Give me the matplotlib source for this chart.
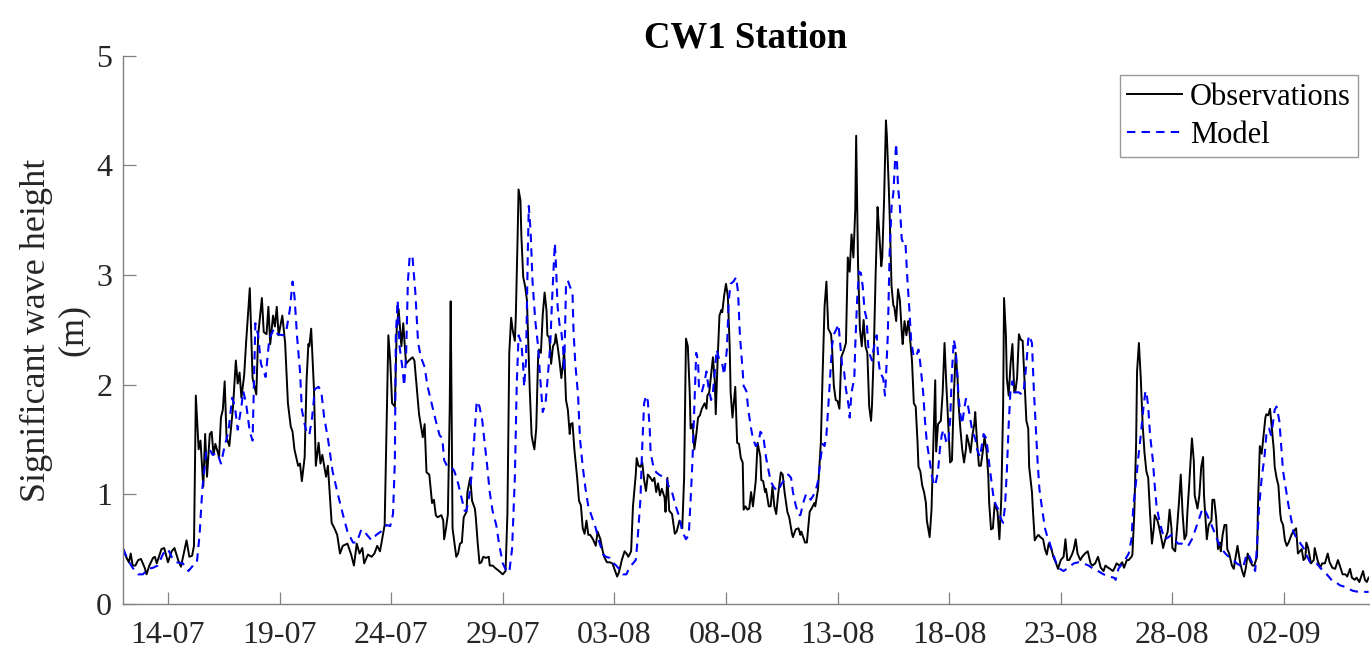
import numpy as np
import pandas as pd
import matplotlib
matplotlib.use("Agg")
import matplotlib.pyplot as plt
import matplotlib.dates as mdates

plt.rcParams['font.family'] = ['Liberation Serif', 'DejaVu Serif']

# hours since 12-07 00:00
obs_hours = [0, 3, 6, 8, 10, 13, 16, 19, 23, 25, 28, 32, 34, 36, 41, 44, 48, 52, 55, 59, 62, 68, 71, 74, 76, 78,
             81, 83, 86, 88, 90, 93, 95, 97, 99, 103, 105, 107, 109, 111, 114, 118, 121, 123, 125, 127, 130, 132,
             136, 139, 143, 145, 149, 151, 154, 156, 158, 161, 163, 165, 167, 171, 174, 177, 180, 182, 184, 188,
             190, 192, 195, 197, 199, 200, 202, 205, 207, 210, 212, 214, 216, 218, 220, 224, 227, 230, 233, 236,
             241, 245, 248, 251, 254, 257, 259, 263, 267, 270, 273, 276, 281, 283, 285, 287, 289, 292, 294, 296,
             299, 301, 304, 307, 311, 313, 316, 318, 322, 324, 326, 329, 332, 334, 336, 338, 342, 344, 345, 347,
             349, 351, 352, 353, 354, 356, 358, 360, 362, 364, 366, 369, 370, 373, 375, 378, 379, 381, 383, 385,
             387, 390, 393, 394, 397, 401, 404, 408, 411, 413, 415, 417, 419, 421, 422, 424, 425, 427, 428, 430,
             432, 434, 437, 439, 440, 442, 444, 446, 447, 449, 451, 453, 455, 456, 458, 460, 462, 464, 465, 467,
             469, 471, 473, 474, 476, 478, 480, 481, 483, 485, 488, 490, 492, 494, 496, 498, 500, 502, 505, 508,
             510, 513, 515, 517, 520, 523, 526, 528, 531, 533, 536, 539, 541, 543, 546, 548, 551, 552, 554, 556,
             558, 560, 562, 564, 566, 569, 571, 573, 575, 577, 579, 582, 583, 585, 587, 590, 593, 595, 598, 600,
             601, 603, 605, 607, 609, 610, 612, 614, 616, 618, 620, 622, 625, 627, 628, 630, 632, 634, 636, 637,
             639, 641, 643, 644, 646, 648, 650, 652, 653, 655, 658, 660, 662, 664, 666, 667, 669, 671, 673, 675,
             677, 680, 682, 685, 686, 688, 690, 691, 694, 696, 698, 700, 702, 704, 707, 709, 711, 714, 716, 719,
             720, 723, 726, 728, 729, 731, 733, 735, 738, 740, 743, 744, 747, 750, 752, 754, 756, 758, 761, 762,
             764, 766, 768, 770, 772, 775, 777, 779, 781, 783, 785, 787, 788, 790, 792, 794, 796, 798, 800, 802,
             804, 805, 807, 809, 811, 812, 815, 816, 818, 820, 821, 823, 824, 826, 828, 829, 831, 833, 835, 837,
             838, 840, 842, 844, 845, 847, 848, 850, 852, 854, 855, 857, 859, 861, 863, 864, 867, 869, 871, 873,
             874, 876, 879, 881, 883, 885, 887, 889, 891, 893, 895, 897, 898, 900, 902, 904, 906, 907, 909, 911,
             913, 915, 916, 918, 920, 922, 924, 926, 928, 930, 931, 933, 935, 937, 940, 942, 944, 946, 947, 949,
             950, 952, 954, 956, 958, 959, 961, 963, 965, 967, 969, 971, 973, 974, 977, 978, 980, 982, 984, 986,
             989, 991, 993, 995, 998, 1000, 1003, 1005, 1008, 1011, 1013, 1015, 1017, 1020, 1022, 1024, 1026,
             1029, 1031, 1034, 1037, 1040, 1042, 1045, 1048, 1051, 1054, 1056, 1059, 1061, 1064, 1066, 1068,
             1071, 1074, 1076, 1079, 1081, 1084, 1085, 1087, 1089, 1090, 1092, 1094, 1096, 1098, 1100, 1102,
             1104, 1106, 1108, 1109, 1112, 1114, 1117, 1118, 1121, 1123, 1125, 1127, 1128, 1131, 1133, 1135,
             1137, 1139, 1141, 1143, 1144, 1146, 1149, 1151, 1152, 1155, 1157, 1159, 1161, 1162, 1165, 1167,
             1170, 1171, 1173, 1175, 1177, 1179, 1180, 1182, 1184, 1186, 1187, 1189, 1192, 1194, 1196, 1198,
             1201, 1203, 1205, 1207, 1209, 1211, 1214, 1216, 1219, 1220, 1222, 1224, 1226, 1228, 1229, 1231,
             1233, 1235, 1237, 1238, 1240, 1242, 1244, 1245, 1247, 1249, 1251, 1253, 1256, 1258, 1261, 1263,
             1265, 1267, 1269, 1271, 1272, 1274, 1277, 1280, 1281, 1284, 1287, 1289, 1292, 1295, 1297, 1300,
             1303, 1306, 1308, 1311, 1314, 1316, 1319, 1321, 1324, 1326, 1329, 1331, 1333, 1335, 1337, 1339]
obs_hs = [0.50, 0.43, 0.38, 0.46, 0.35, 0.35, 0.40, 0.41, 0.33, 0.27, 0.35, 0.42, 0.43, 0.37, 0.50, 0.51, 0.38,
          0.48, 0.51, 0.40, 0.34, 0.58, 0.43, 0.44, 0.53, 1.90, 1.41, 1.49, 1.07, 1.55, 1.16, 1.55, 1.57, 1.36,
          1.46, 1.34, 1.70, 1.77, 2.03, 1.52, 1.44, 1.80, 2.22, 2.01, 2.11, 1.88, 2.09, 2.38, 2.88, 2.06, 1.91,
          2.45, 2.79, 2.48, 2.46, 2.71, 2.37, 2.63, 2.53, 2.71, 2.45, 2.63, 2.38, 1.83, 1.62, 1.57, 1.41, 1.26,
          1.28, 1.12, 1.34, 2.03, 2.37, 2.35, 2.51, 1.96, 1.26, 1.47, 1.28, 1.36, 1.26, 1.16, 1.26, 0.74, 0.69,
          0.63, 0.46, 0.53, 0.55, 0.45, 0.35, 0.55, 0.46, 0.51, 0.37, 0.45, 0.43, 0.46, 0.53, 0.48, 0.72, 1.60,
          2.45, 2.22, 1.83, 1.80, 2.51, 2.69, 2.35, 2.56, 2.19, 2.22, 2.25, 2.22, 1.93, 1.73, 1.52, 1.64, 1.20,
          1.18, 0.92, 0.95, 0.81, 0.79, 0.81, 0.76, 0.59, 0.69, 0.82, 1.80, 2.76, 1.80, 0.69, 0.56, 0.43, 0.46,
          0.55, 0.56, 0.79, 0.84, 1.02, 1.15, 0.94, 0.87, 0.79, 0.56, 0.37, 0.38, 0.43, 0.42, 0.43, 0.35, 0.35,
          0.32, 0.30, 0.27, 0.30, 0.82, 2.29, 2.61, 2.48, 2.40, 2.61, 3.36, 3.78, 3.68, 3.36, 2.98, 2.90, 2.77,
          1.96, 1.54, 1.49, 1.41, 1.60, 2.25, 2.32, 2.29, 2.64, 2.84, 2.68, 2.45, 2.43, 2.19, 2.35, 2.38, 2.46,
          2.35, 2.22, 2.06, 2.20, 2.32, 1.86, 1.77, 1.55, 1.64, 1.65, 1.41, 1.15, 0.94, 0.90, 0.69, 0.64, 0.76,
          0.63, 0.63, 0.59, 0.53, 0.66, 0.59, 0.50, 0.43, 0.38, 0.38, 0.37, 0.32, 0.25, 0.29, 0.40, 0.48, 0.46,
          0.43, 0.48, 0.89, 1.18, 1.33, 1.26, 1.25, 1.29, 1.13, 1.03, 1.18, 1.16, 1.12, 1.15, 1.02, 1.10, 0.99,
          1.05, 0.97, 0.84, 1.15, 0.85, 0.82, 0.64, 0.66, 0.76, 0.72, 0.69, 1.15, 2.42, 2.35, 1.93, 1.60, 1.64,
          1.41, 1.54, 1.70, 1.72, 1.78, 1.83, 1.78, 1.90, 1.93, 2.09, 2.25, 2.03, 1.73, 2.22, 2.63, 2.68, 2.66,
          2.81, 2.92, 2.81, 2.35, 1.93, 1.70, 1.98, 1.47, 1.46, 1.33, 1.29, 0.86, 0.89, 0.86, 0.87, 1.02, 0.89,
          1.12, 1.47, 1.34, 1.13, 1.12, 1.02, 1.05, 0.89, 0.89, 1.07, 0.89, 0.82, 0.99, 1.20, 1.18, 1.02, 0.84,
          0.79, 0.64, 0.61, 0.68, 0.69, 0.63, 0.66, 0.61, 0.56, 0.56, 0.84, 0.87, 0.92, 0.89, 1.05, 1.47, 2.12,
          2.71, 2.94, 2.51, 2.46, 2.35, 1.99, 1.86, 1.85, 1.78, 2.25, 2.32, 2.38, 3.16, 3.03, 3.37, 3.16, 3.59,
          4.27, 3.10, 2.51, 2.35, 2.59, 2.35, 2.29, 1.80, 1.67, 1.81, 2.32, 3.03, 3.62, 3.49, 3.08, 3.16, 3.68,
          4.41, 4.27, 3.81, 3.55, 2.90, 2.72, 2.71, 2.58, 2.87, 2.77, 2.48, 2.37, 2.58, 2.45, 2.58, 2.51, 2.32,
          2.22, 1.83, 1.80, 1.47, 1.25, 1.21, 1.08, 1.02, 0.92, 0.76, 0.61, 0.86, 1.47, 2.04, 1.39, 1.64, 1.67,
          1.93, 2.38, 1.99, 1.64, 1.29, 1.31, 1.90, 2.29, 2.06, 1.83, 1.60, 1.41, 1.29, 1.41, 1.54, 1.47, 1.38,
          1.54, 1.64, 1.75, 1.47, 1.26, 1.26, 1.38, 1.52, 1.41, 1.18, 0.92, 0.68, 0.69, 0.92, 0.84, 0.59, 0.95,
          1.80, 2.79, 2.45, 2.06, 1.90, 2.19, 2.37, 1.93, 1.93, 2.06, 2.46, 2.41, 2.40, 2.03, 1.67, 1.60, 1.25,
          1.02, 0.86, 0.58, 0.61, 0.63, 0.61, 0.59, 0.50, 0.45, 0.55, 0.50, 0.43, 0.37, 0.32, 0.40, 0.43, 0.59,
          0.40, 0.40, 0.45, 0.50, 0.59, 0.46, 0.40, 0.43, 0.46, 0.48, 0.37, 0.35, 0.37, 0.43, 0.33, 0.30, 0.35,
          0.33, 0.32, 0.30, 0.33, 0.37, 0.35, 0.38, 0.33, 0.40, 0.40, 0.43, 0.45, 0.82, 1.47, 2.12, 2.38, 2.06,
          1.64, 1.38, 1.21, 1.15, 0.82, 0.55, 0.69, 0.81, 0.76, 0.69, 0.56, 0.51, 0.61, 0.66, 0.86, 0.69, 0.51,
          0.48, 0.69, 0.92, 1.18, 0.82, 0.59, 0.63, 0.82, 1.08, 1.51, 1.31, 0.99, 0.87, 0.99, 1.25, 1.34, 0.99,
          0.59, 0.72, 0.76, 0.95, 0.95, 0.79, 0.50, 0.56, 0.48, 0.63, 0.72, 0.72, 0.50, 0.46, 0.35, 0.32, 0.43,
          0.53, 0.37, 0.30, 0.25, 0.33, 0.46, 0.40, 0.35, 0.35, 0.43, 0.89, 1.44, 1.37, 1.54, 1.70, 1.73, 1.72,
          1.78, 1.60, 1.41, 1.25, 1.15, 1.08, 0.82, 0.76, 0.72, 0.58, 0.53, 0.56, 0.63, 0.66, 0.69, 0.46, 0.48,
          0.50, 0.40, 0.42, 0.56, 0.51, 0.37, 0.40, 0.51, 0.40, 0.33, 0.37, 0.37, 0.46, 0.38, 0.33, 0.32, 0.40,
          0.35, 0.27, 0.27, 0.25, 0.32, 0.24, 0.22, 0.24, 0.20, 0.25, 0.30, 0.22, 0.20, 0.24]

mod_hours = [0, 5, 10, 16, 21, 27, 32, 37, 43, 48, 52, 57, 64, 70, 75, 79, 82, 85, 89, 92, 96, 101, 105, 109, 113,
             117, 120, 123, 127, 129, 132, 136, 139, 140, 142, 145, 148, 153, 157, 162, 166, 172, 175, 179, 182,
             184, 187, 190, 192, 195, 197, 200, 203, 206, 210, 213, 216, 220, 225, 231, 236, 241, 247, 251, 256,
             261, 267, 272, 277, 283, 287, 290, 292, 293, 295, 297, 300, 302, 304, 306, 308, 311, 314, 317, 320,
             324, 327, 332, 336, 340, 343, 345, 348, 353, 356, 360, 363, 367, 369, 372, 375, 378, 380, 383, 386,
             388, 391, 394, 397, 401, 404, 408, 412, 415, 418, 421, 423, 425, 428, 430, 431, 433, 435, 436, 438,
             440, 443, 446, 448, 451, 454, 456, 459, 461, 464, 465, 467, 469, 471, 473, 474, 476, 478, 480, 483,
             484, 486, 489, 491, 494, 497, 500, 504, 508, 512, 516, 519, 523, 526, 530, 533, 537, 541, 544, 548,
             551, 553, 556, 558, 560, 562, 564, 566, 567, 570, 573, 576, 580, 584, 586, 590, 594, 598, 601, 605,
             608, 610, 612, 614, 616, 618, 619, 622, 625, 627, 629, 632, 634, 637, 638, 641, 644, 646, 649, 651,
             653, 656, 659, 661, 663, 666, 667, 670, 672, 675, 677, 680, 683, 685, 688, 691, 694, 696, 699, 701,
             704, 708, 711, 715, 718, 720, 723, 726, 728, 731, 734, 737, 739, 742, 744, 747, 750, 752, 754, 756,
             759, 762, 764, 767, 769, 771, 773, 775, 777, 780, 781, 783, 786, 787, 789, 791, 793, 795, 797, 799,
             801, 802, 805, 806, 808, 810, 812, 814, 815, 817, 819, 820, 822, 824, 826, 828, 830, 831, 833, 835,
             837, 839, 841, 843, 845, 847, 848, 850, 853, 855, 857, 860, 862, 864, 867, 869, 872, 873, 876, 878,
             880, 882, 885, 887, 889, 891, 893, 895, 897, 898, 900, 902, 904, 906, 907, 909, 911, 913, 916, 918,
             921, 923, 925, 928, 931, 934, 936, 939, 941, 943, 946, 948, 950, 952, 954, 956, 958, 960, 963, 966,
             968, 971, 973, 974, 977, 979, 981, 983, 985, 988, 991, 993, 995, 998, 1002, 1005, 1011, 1016, 1022,
             1027, 1032, 1038, 1043, 1048, 1054, 1059, 1065, 1067, 1070, 1074, 1077, 1081, 1084, 1086, 1089,
             1091, 1094, 1097, 1099, 1100, 1102, 1104, 1107, 1109, 1111, 1114, 1117, 1120, 1124, 1127, 1131,
             1134, 1138, 1142, 1145, 1149, 1152, 1156, 1160, 1162, 1165, 1168, 1172, 1176, 1179, 1183, 1186,
             1190, 1194, 1197, 1201, 1204, 1208, 1211, 1214, 1217, 1219, 1221, 1224, 1227, 1229, 1232, 1234,
             1236, 1238, 1240, 1243, 1245, 1247, 1250, 1253, 1256, 1258, 1262, 1265, 1269, 1272, 1276, 1280,
             1283, 1287, 1290, 1294, 1297, 1301, 1305, 1308, 1312, 1317, 1322, 1328, 1333, 1339]
mod_hs = [0.50, 0.40, 0.33, 0.27, 0.27, 0.32, 0.33, 0.35, 0.46, 0.50, 0.43, 0.38, 0.37, 0.30, 0.35, 0.37, 0.63,
          1.05, 1.38, 1.42, 1.36, 1.38, 1.28, 1.44, 1.57, 1.88, 1.80, 1.59, 1.80, 1.94, 1.83, 1.57, 1.49, 1.86,
          2.56, 2.45, 2.19, 2.07, 2.42, 2.51, 2.46, 2.45, 2.48, 2.68, 2.94, 2.81, 2.42, 2.12, 1.77, 1.64, 1.57,
          1.54, 1.70, 1.96, 1.98, 1.93, 1.70, 1.51, 1.21, 0.99, 0.82, 0.66, 0.56, 0.56, 0.68, 0.64, 0.58, 0.63,
          0.66, 0.72, 0.71, 0.82, 1.31, 2.45, 2.77, 2.35, 2.16, 1.99, 2.25, 2.94, 3.18, 3.16, 2.84, 2.38, 2.25,
          2.16, 1.99, 1.81, 1.67, 1.54, 1.51, 1.31, 1.26, 1.25, 1.21, 1.10, 0.99, 0.85, 0.85, 0.99, 1.21, 1.60,
          1.85, 1.80, 1.67, 1.51, 1.28, 1.02, 0.85, 0.72, 0.55, 0.37, 0.30, 0.29, 0.50, 1.15, 1.99, 2.45, 2.38,
          2.16, 1.98, 2.22, 3.23, 3.63, 3.39, 2.94, 2.58, 2.35, 2.09, 1.75, 1.83, 2.03, 2.35, 2.77, 3.29, 3.13,
          2.71, 2.55, 2.48, 2.32, 2.12, 2.90, 2.95, 2.90, 2.84, 2.51, 2.19, 1.90, 1.51, 1.25, 1.05, 0.89, 0.79,
          0.69, 0.56, 0.45, 0.43, 0.42, 0.38, 0.35, 0.32, 0.27, 0.27, 0.33, 0.37, 0.40, 0.59, 0.95, 1.44, 1.83,
          1.90, 1.85, 1.60, 1.38, 1.25, 1.20, 1.18, 1.16, 1.15, 1.08, 1.02, 0.89, 0.79, 0.66, 0.59, 0.63, 0.95,
          1.31, 1.80, 2.29, 2.22, 1.96, 1.93, 2.03, 2.12, 1.99, 1.86, 1.93, 2.22, 2.32, 2.22, 2.19, 2.09, 2.32,
          2.77, 2.92, 2.94, 2.98, 2.84, 2.45, 2.12, 1.99, 1.94, 1.77, 1.60, 1.51, 1.44, 1.47, 1.57, 1.54, 1.34,
          1.21, 1.12, 1.07, 1.05, 1.03, 1.10, 1.13, 1.18, 1.15, 1.02, 0.90, 0.81, 0.81, 0.92, 1.00, 0.99, 0.95,
          0.99, 1.02, 1.12, 1.34, 1.46, 1.44, 1.54, 1.93, 2.35, 2.46, 2.51, 2.55, 2.35, 2.16, 2.12, 1.96, 1.80,
          1.70, 1.93, 2.06, 2.35, 2.77, 3.03, 3.02, 2.90, 2.68, 2.61, 2.35, 2.29, 2.22, 2.29, 2.38, 2.45, 2.22,
          2.09, 2.09, 2.06, 1.90, 2.06, 2.45, 3.20, 3.62, 3.75, 4.07, 4.20, 3.81, 3.62, 3.33, 3.28, 3.29, 2.97,
          2.71, 2.42, 2.35, 2.25, 2.27, 2.32, 2.19, 1.93, 1.67, 1.47, 1.31, 1.18, 1.08, 1.08, 1.21, 1.41, 1.54,
          1.59, 1.47, 1.46, 1.67, 2.12, 2.41, 2.32, 2.06, 1.90, 1.73, 1.64, 1.77, 1.87, 1.86, 1.77, 1.67, 1.57,
          1.51, 1.41, 1.34, 1.44, 1.55, 1.51, 1.28, 1.08, 0.95, 0.89, 0.86, 0.79, 0.74, 0.89, 1.21, 1.64, 1.96,
          2.03, 1.93, 1.93, 1.93, 1.91, 1.93, 2.19, 2.41, 2.45, 2.38, 1.96, 1.64, 1.31, 1.05, 0.86, 0.69, 0.63,
          0.59, 0.50, 0.40, 0.33, 0.30, 0.33, 0.37, 0.38, 0.37, 0.35, 0.32, 0.30, 0.27, 0.25, 0.24, 0.22, 0.32,
          0.37, 0.40, 0.46, 0.59, 0.89, 1.12, 1.31, 1.54, 1.80, 1.94, 1.94, 1.80, 1.54, 1.31, 1.08, 0.89, 0.76,
          0.66, 0.59, 0.61, 0.63, 0.58, 0.55, 0.55, 0.53, 0.53, 0.59, 0.66, 0.76, 0.86, 0.87, 0.82, 0.76, 0.68,
          0.59, 0.53, 0.48, 0.45, 0.42, 0.40, 0.37, 0.35, 0.33, 0.46, 0.43, 0.37, 0.30, 0.53, 0.86, 1.15, 1.34,
          1.54, 1.60, 1.54, 1.64, 1.77, 1.80, 1.67, 1.44, 1.21, 1.05, 0.89, 0.76, 0.66, 0.59, 0.56, 0.51, 0.45,
          0.38, 0.37, 0.37, 0.33, 0.30, 0.27, 0.24, 0.20, 0.19, 0.17, 0.16, 0.14, 0.12, 0.11, 0.11, 0.11]

start = pd.Timestamp("2019-07-12 00:00")
obs_time = start + pd.to_timedelta(obs_hours, unit="h")
mod_time = start + pd.to_timedelta(mod_hours, unit="h")
tick_dates = pd.date_range("2019-07-14", periods=11, freq="5D")

fig = plt.figure(figsize=(13.7, 6.48), dpi=100)
ax = fig.add_axes([0.090, 0.068, 0.909, 0.846])

ax.plot(obs_time, obs_hs, color="black", lw=1.4, label="Observations")
ax.plot(mod_time, mod_hs, color="blue", lw=1.5, linestyle=(0, (4, 3)), label="Model")

ax.set_xlim(start, start + pd.Timedelta(hours=1339))
ax.set_ylim(0, 5)
ax.set_yticks([0, 1, 2, 3, 4, 5])
ax.set_xticks(tick_dates)
ax.xaxis.set_major_formatter(mdates.DateFormatter("%d-%m"))

for side in ["top", "right"]:
    ax.spines[side].set_visible(False)
for side in ["left", "bottom"]:
    ax.spines[side].set_color("#808080")
    ax.spines[side].set_linewidth(1.0)
ax.tick_params(direction="in", length=9, width=0.9, color="#808080",
               labelsize=23, labelcolor="#262626", pad=8)
ax.tick_params(axis="x", pad=12)

ax.set_ylabel("Significant wave height\n(m)", fontsize=26, color="#262626", linespacing=1.15)
ax.yaxis.set_label_coords(-0.027, 0.5)
ax.set_title("CW1 Station", fontsize=26.5, fontweight="bold", pad=6)

leg = ax.legend(loc="upper right", bbox_to_anchor=(0.9915, 0.8843), bbox_transform=fig.transFigure,
                fontsize=22, frameon=True, fancybox=False, edgecolor="#808080",
                handlelength=1.8, borderpad=0.25, labelspacing=0.3, handletextpad=0.25,
                borderaxespad=0)
leg.get_frame().set_linewidth(1.0)

fig.savefig("out.png", dpi=100)
